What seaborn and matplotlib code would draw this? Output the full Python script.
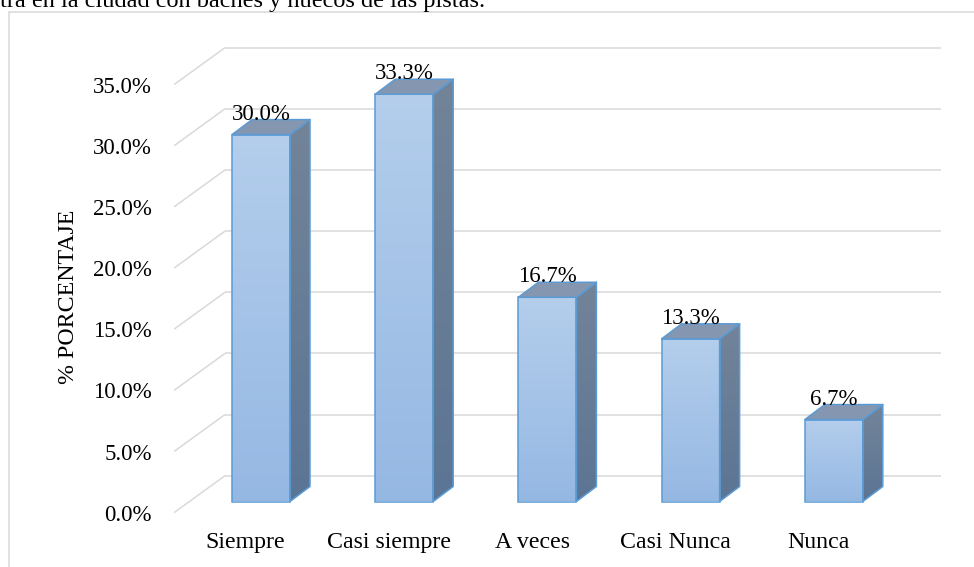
import numpy as np
import pandas as pd
import matplotlib
matplotlib.use("Agg")
import matplotlib.pyplot as plt
import seaborn as sns
from matplotlib.transforms import offset_copy
from matplotlib.patches import Polygon
from matplotlib.lines import Line2D
from matplotlib.colors import LinearSegmentedColormap

# ---- data -------------------------------------------------------------
categories = ["Siempre", "Casi siempre", "A veces", "Casi Nunca", "Nunca"]
percentages = [30.0, 33.3, 16.7, 13.3, 6.7]
y_ticks = [0, 5, 10, 15, 20, 25, 30, 35]
y_title = "% PORCENTAJE"
caption = "tra en la ciudad con baches y huecos de las pistas."

# ---- style ------------------------------------------------------------
sns.set_style("white")
plt.rcParams["font.family"] = ["Liberation Serif", "DejaVu Serif"]

EDGE = "#5B9BD5"
GRID = "#D9D9D9"
front_cmap = LinearSegmentedColormap.from_list("front", ["#95B8E3", "#B4CEEC"])
side_cmap = LinearSegmentedColormap.from_list("side", ["#5B7594", "#738499"])
TOP_FACE = "#8597B0"
NUM_SIZE = 16.5
CAT_SIZE = 17.2

W, H = 974, 567
fig = plt.figure(figsize=(W / 100, H / 100), dpi=100)


def px_rect(left, top, right, bottom):
    return [left / W, 1 - bottom / H, (right - left) / W, (bottom - top) / H]


# pseudo-3D geometry (pixels): front floor edge, bar plane, back wall
FRONT_DX, FRONT_DY = -15.4, -11.2
BACK_DX, BACK_DY = 35.6, 25.8
DEPTH_DX, DEPTH_DY = 20.0, 15.0

ax = fig.add_axes(px_rect(174, 30, 941, 530))
df = pd.DataFrame({"categoria": categories, "porcentaje": percentages})
sns.barplot(data=df, x="categoria", y="porcentaje", ax=ax, width=0.405,
            color="#A6C4E8", saturation=1, edgecolor=EDGE, linewidth=1.1,
            zorder=3)

xlim = (-0.5 + FRONT_DX / 143.25, 4.5 + BACK_DX / 143.25)
ylim = ((501.5 - 530) / 12.23, (501.5 - 30) / 12.23)
ax.set_xlim(*xlim)
ax.set_ylim(*ylim)
ax.set_autoscale_on(False)
ax.axis("off")

ux = ax.bbox.width / (xlim[1] - xlim[0])
uy = ax.bbox.height / (ylim[1] - ylim[0])


def shifted(dx, dy):
    return offset_copy(ax.transData, fig=fig, x=dx, y=dy, units="dots")


# back wall gridlines and the floor/wall diagonals at the left
ax.hlines(y_ticks, -0.5, 4.5, transform=shifted(BACK_DX, BACK_DY),
          colors=GRID, linewidth=1.1, zorder=1)
for v in y_ticks:
    ax.plot([-0.5 + FRONT_DX / ux, -0.5 + BACK_DX / ux],
            [v + FRONT_DY / uy, v + BACK_DY / uy],
            color=GRID, linewidth=1.1, zorder=1, solid_capstyle="butt")
    ax.text(-0.5, v, f"{v:.1f}%", transform=shifted(FRONT_DX - 22, FRONT_DY),
            ha="right", va="center_baseline", fontsize=NUM_SIZE, color="black")

grad = np.linspace(0, 1, 256).reshape(-1, 1)
ddx, ddy = DEPTH_DX / ux, DEPTH_DY / uy
for patch, value in zip(ax.patches, percentages):
    x0, w, h = patch.get_x(), patch.get_width(), patch.get_height()
    patch.set_facecolor("none")
    # front face gradient
    im = ax.imshow(grad, extent=[x0, x0 + w, 0, h], origin="lower",
                   cmap=front_cmap, aspect="auto", zorder=2,
                   interpolation="bilinear")
    im.set_clip_path(patch)
    # right side face
    side = Polygon([(x0 + w, 0), (x0 + w + ddx, ddy), (x0 + w + ddx, h + ddy),
                    (x0 + w, h)], closed=True, facecolor="none",
                   edgecolor=EDGE, linewidth=1.1, zorder=3, joinstyle="round")
    ax.add_patch(side)
    ims = ax.imshow(grad, extent=[x0 + w, x0 + w + ddx, 0, h + ddy],
                    origin="lower", cmap=side_cmap, aspect="auto", zorder=2,
                    interpolation="bilinear")
    ims.set_clip_path(side)
    # top face
    top = Polygon([(x0, h), (x0 + w, h), (x0 + w + ddx, h + ddy),
                   (x0 + ddx, h + ddy)], closed=True, facecolor=TOP_FACE,
                  edgecolor=EDGE, linewidth=1.1, zorder=3, joinstyle="round")
    ax.add_patch(top)
    # value label
    ax.text(x0 + w / 2, h, f"{value:.1f}%", transform=shifted(0, 15),
            ha="center", va="baseline", fontsize=NUM_SIZE, color="black",
            zorder=4)

ax.set_xlim(*xlim)
ax.set_ylim(*ylim)

# category labels on the front floor edge
for i, cat in enumerate(categories):
    ax.text(i, 0, cat, transform=shifted(FRONT_DX, -46.5), ha="center",
            va="baseline", fontsize=CAT_SIZE, color="black")

fig.text(69 / W, 1 - 297 / H, y_title, rotation=90, ha="center", va="center",
         fontsize=CAT_SIZE, color="black")

# chart area border
fig.add_artist(Line2D([8.5 / W, 1], [1 - 11.5 / H] * 2, transform=fig.transFigure,
                      color=GRID, linewidth=1.1))
fig.add_artist(Line2D([8.5 / W] * 2, [0, 1 - 11.5 / H], transform=fig.transFigure,
                      color=GRID, linewidth=1.1))

fig.text(0 / W, 1 - 7 / H, caption, ha="left", va="baseline", fontsize=17.5,
         color="black")

fig.savefig("out.png", dpi=100)
